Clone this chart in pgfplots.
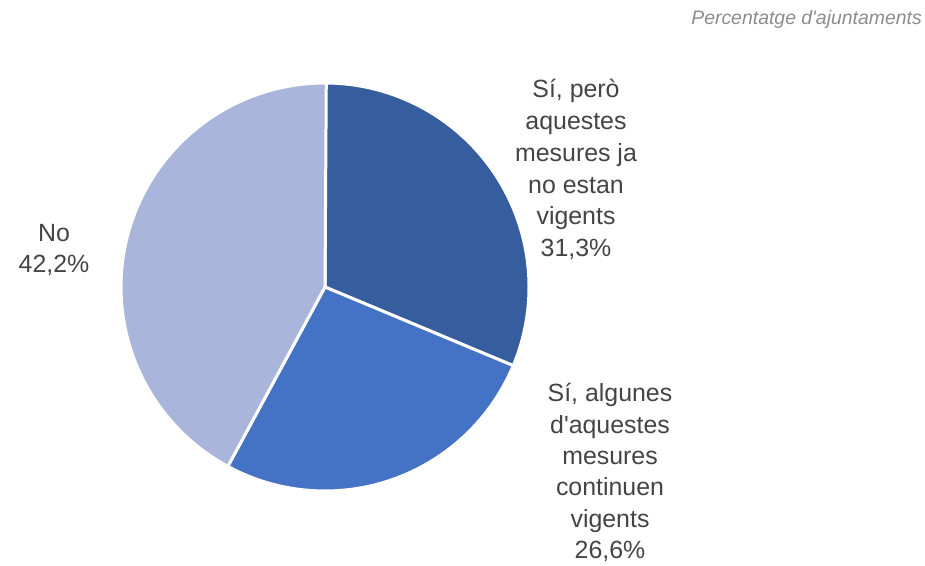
\documentclass[border=0pt]{standalone}
\usepackage{pgfplots}
\pgfplotsset{compat=1.18}
\usepackage{pgfplotstable}
\usepackage{fontspec}
\setmainfont{Liberation Sans}[Ligatures=TeXOff]
\definecolor{cA}{HTML}{365E9F}
\definecolor{cB}{HTML}{4472C4}
\definecolor{cC}{HTML}{A9B5DA}
\definecolor{txt}{HTML}{444444}
\definecolor{ttl}{HTML}{8C8C8C}

\pgfplotstableread{
label value
SiJa 31.3
SiAlg 26.6
No 42.2
}\piedata
\pgfplotstablegetelem{0}{value}\of\piedata \let\va\pgfplotsretval
\pgfplotstablegetelem{1}{value}\of\piedata \let\vb\pgfplotsretval
\pgfplotstablegetelem{2}{value}\of\piedata \let\vc\pgfplotsretval
\pgfmathsetmacro\aA{90-3.6*\va}
\pgfmathsetmacro\aB{\aA-3.6*\vb}
\pgfmathsetmacro\aC{\aB-3.6*\vc}

\begin{document}
\begin{tikzpicture}
\useasboundingbox (0,0) rectangle (925bp,566bp);
\begin{axis}[
  at={(0,0)}, anchor=south west,
  scale only axis, width=925bp, height=566bp,
  xmin=0, xmax=925, ymin=0, ymax=566,
  hide axis, clip=false,
]
\addplot[fill=cA, draw=white, line width=3bp, line join=round, samples=120, domain=\aA:90, variable=\t]
  ({325+204*cos(t)},{279+204*sin(t)}) -- (axis cs:325,279) -- cycle;
\addplot[fill=cB, draw=white, line width=3bp, line join=round, samples=120, domain=\aB:\aA, variable=\t]
  ({325+204*cos(t)},{279+204*sin(t)}) -- (axis cs:325,279) -- cycle;
\addplot[fill=cC, draw=white, line width=3bp, line join=round, samples=160, domain=\aC:\aB, variable=\t]
  ({325+204*cos(t)},{279+204*sin(t)}) -- (axis cs:325,279) -- cycle;

\node[anchor=base, inner sep=0, text=txt, font=\fontsize{25}{31.8}\selectfont] at (axis cs:576,468)
  {\setlength\tabcolsep{0pt}\begin{tabular}[t]{c}Sí, però\\aquestes\\mesures ja\\no estan\\vigents\\31,3\%\end{tabular}};
\node[anchor=base, inner sep=0, text=txt, font=\fontsize{25}{31.4}\selectfont] at (axis cs:610,164)
  {\setlength\tabcolsep{0pt}\begin{tabular}[t]{c}Sí, algunes\\d'aquestes\\mesures\\continuen\\vigents\\26,6\%\end{tabular}};
\node[anchor=base, inner sep=0, text=txt, font=\fontsize{25}{30.5}\selectfont] at (axis cs:54,324)
  {\setlength\tabcolsep{0pt}\begin{tabular}[t]{c}No\\42,2\%\end{tabular}};
\node[anchor=base east, inner sep=0, text=ttl, font=\fontsize{19.5}{22}\selectfont\itshape] at (axis cs:922,541)
  {Percentatge d'ajuntaments};
\end{axis}
\end{tikzpicture}
\end{document}
